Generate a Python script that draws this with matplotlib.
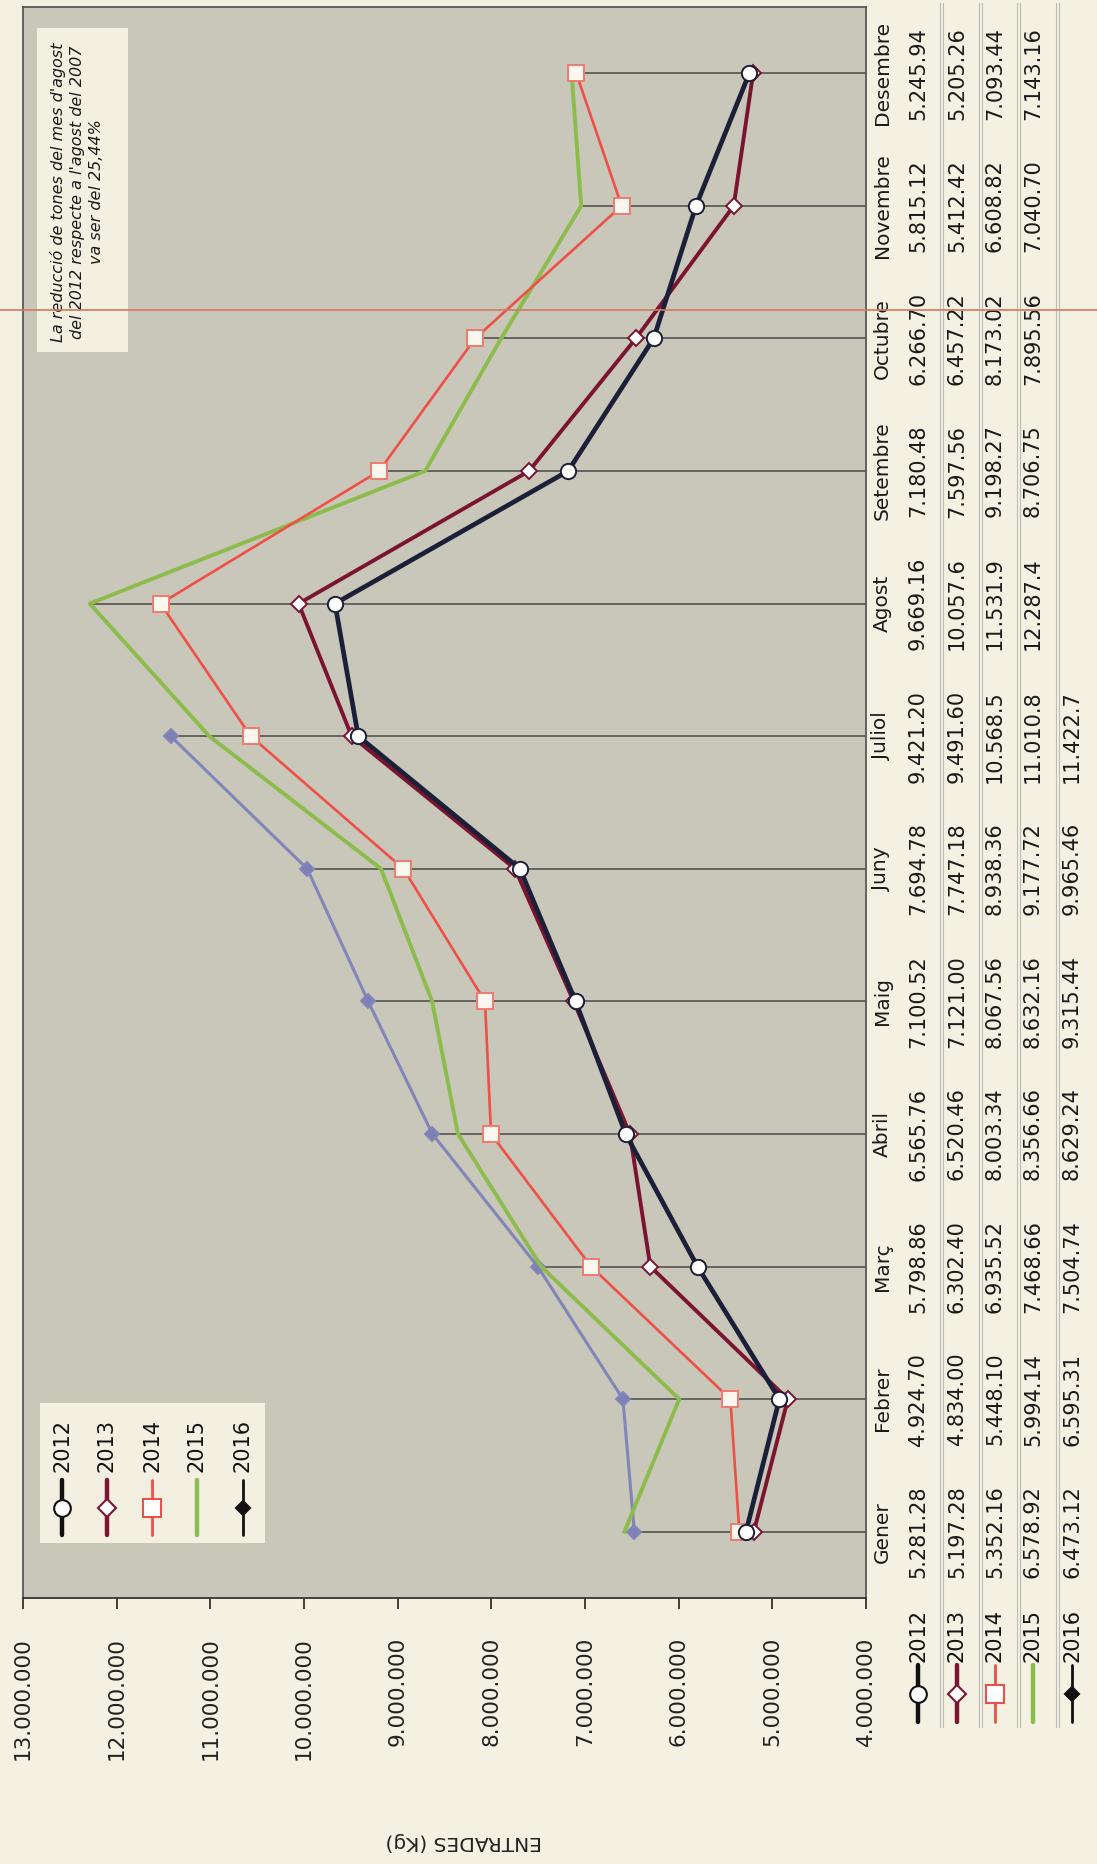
import matplotlib
matplotlib.use("Agg")
import matplotlib.pyplot as plt
from matplotlib.lines import Line2D
from matplotlib.patches import Rectangle
from matplotlib.transforms import blended_transform_factory

# ---------------- data (tones) ----------------
months = ["Gener", "Febrer", "Març", "Abril", "Maig", "Juny", "Juliol",
          "Agost", "Setembre", "Octubre", "Novembre", "Desembre"]
years = ["2012", "2013", "2014", "2015", "2016"]
t2012 = [5281.28, 4924.70, 5798.86, 6565.76, 7100.52, 7694.78, 9421.20,
         9669.16, 7180.48, 6266.70, 5815.12, 5245.94]
t2013 = [5197.28, 4834.00, 6302.40, 6520.46, 7121.00, 7747.18, 9491.60,
         10057.6, 7597.56, 6457.22, 5412.42, 5205.26]
t2014 = [5352.16, 5448.10, 6935.52, 8003.34, 8067.56, 8938.36, 10568.5,
         11531.9, 9198.27, 8173.02, 6608.82, 7093.44]
t2015 = [6578.92, 5994.14, 7468.66, 8356.66, 8632.16, 9177.72, 11010.8,
         12287.4, 8706.75, 7895.56, 7040.70, 7143.16]
t2016 = [6473.12, 6595.31, 7504.74, 8629.24, 9315.44, 9965.46, 11422.7]
series = [t2012, t2013, t2014, t2015, t2016]
value_ticks = [4000000, 5000000, 6000000, 7000000, 8000000,
               9000000, 10000000, 11000000, 12000000, 13000000]
axis_label = "ENTRADES (Kg)"
note = "La reducció de tones del mes d'agost\ndel 2012 respecte a l'agost del 2007\nva ser del 25,44%"

# ---------------- styles ----------------
W, H = 1097, 1864
PAGE = "#f4f1e3"
PLOT = "#c9c7b9"
BOX = "#f3f0e2"
line_col = ["#1b1f38", "#7a1430", "#ee5048", "#8cbc4c", "#8285b8"]
key_col = ["#111111", "#7a1430", "#e8524a", "#8cbc4c", "#111111"]
lws = [3.4, 2.8, 1.9, 2.8, 2.2]
mk = ["o", "D", "s", None, "D"]
mss = [11, 8, 12, 0, 7]
mfc = ["white", "white", "#fbf7ee", "none", "#7d80b4"]
z = [6, 5, 4, 3, 2]

plt.rcParams["font.family"] = ["DejaVu Sans"]

fig = plt.figure(figsize=(W / 100, H / 100), dpi=100, facecolor=PAGE)


def fx(px):
    return px / W


def fy(py):
    return 1 - py / H


ax_l, ax_r, ax_t, ax_b = 23, 866, 7, 1598
ax = fig.add_axes([fx(ax_l), fy(ax_b), fx(ax_r - ax_l), (ax_b - ax_t) / H])
ax.set_facecolor(PLOT)
ax.set_xlim(13e6, 4e6)
ax.set_ylim(-0.5, 11.5)

ypos = list(range(len(months)))

# drop lines from each month's maximum to the axis
for i in ypos:
    vals = [s[i] for s in series if i < len(s)]
    ax.hlines(i, max(vals) * 1000, 4e6, color="#4a4a48", lw=1.1, zorder=1)

for k, s in enumerate(series):
    xs = [v * 1000 for v in s]
    ys = ypos[:len(s)]
    if mk[k]:
        ax.plot(xs, ys, color=line_col[k], lw=lws[k], marker=mk[k], ms=mss[k],
                mfc=mfc[k], mec=line_col[k] if k != 2 else "#f07a70",
                mew=1.4, zorder=z[k])
    else:
        ax.plot(xs, ys, color=line_col[k], lw=lws[k], zorder=z[k])

ax.set_xticks(value_ticks)
ax.set_xticklabels([f"{v:,}".replace(",", ".") for v in value_ticks], rotation=90)
ax.tick_params(axis="x", direction="out", length=8, width=1.2, pad=20,
               labelsize=15.5, colors="#222222")
ax.set_yticks([])
for side, sp in ax.spines.items():
    sp.set_color("#5a5a55")
    sp.set_linewidth(1.3)
ax.spines["bottom"].set_color("#333333")

# axis title (upside down, as in the scanned page)
fig.text(fx(464), fy(1842), axis_label, rotation=180, ha="center", va="center",
         fontsize=14.5, color="#222222")

# ---------------- note box ----------------
fig.add_artist(Rectangle((fx(37), fy(352)), fx(128 - 37), (352 - 28) / H,
                         transform=fig.transFigure, facecolor=BOX, edgecolor="none",
                         zorder=3))
fig.text(fx(77), fy(192), note, rotation=90, ha="center", va="center",
         multialignment="center", fontsize=11.5, style="italic",
         linespacing=1.35, color="#1a1a1a", zorder=4)

# ---------------- legend in plot ----------------
fig.add_artist(Rectangle((fx(40), fy(1543)), fx(265 - 40), (1543 - 1403) / H,
                         transform=fig.transFigure, facecolor=BOX, edgecolor="none",
                         zorder=3))
leg_x = [62, 107, 152, 197, 243]


def key(x, ytop, ybot, k, lw):
    fig.add_artist(Line2D([fx(x), fx(x)], [fy(ytop), fy(ybot)],
                          transform=fig.transFigure, color=key_col[k], lw=lw,
                          solid_capstyle="round", zorder=5))
    if mk[k]:
        fig.add_artist(Line2D([fx(x)], [fy((ytop + ybot) / 2)],
                              transform=fig.transFigure, marker=mk[k],
                              ms=mss[k] + (1 if k < 3 else 0),
                              mfc=("white" if k < 3 else key_col[k]),
                              mec=key_col[k], mew=1.5, color=key_col[k],
                              zorder=6))


for k, yr in enumerate(years):
    key(leg_x[k], 1480, 1535, k, 3.2 if k in (0, 1, 3) else 2.0)
    fig.text(fx(leg_x[k]), fy(1472), yr, rotation=90, ha="center", va="bottom",
             fontsize=15, color="#111111", zorder=6)

# ---------------- data table ----------------
tr = blended_transform_factory(fig.transFigure, ax.transData)
col_hdr = 882
row_x = [918, 957, 995, 1033, 1072]
for i, m in enumerate(months):
    fig.text(fx(col_hdr), i, m, transform=tr, rotation=90, ha="center",
             va="center", fontsize=14.5, color="#1a1a1a")
for k, s in enumerate(series):
    for i, v in enumerate(s):
        txt = f"{v:,.2f}".replace(",", ".")[:8]
        fig.text(fx(row_x[k]), i, txt, transform=tr, rotation=90, ha="center",
                 va="center", fontsize=15, color="#1a1a1a")
    # row label: key + year
    fig.text(fx(row_x[k]), fy(1662), years[k], rotation=90, ha="center",
             va="bottom", fontsize=15, color="#111111")
    key(row_x[k], 1665, 1722, k, 3.2 if k in (0, 1, 3) else 2.0)

for sx in [941, 980, 1018, 1057]:
    for d in (-1.5, 1.5):
        fig.add_artist(Line2D([fx(sx + d), fx(sx + d)], [fy(3), fy(1727)],
                              transform=fig.transFigure, color="#bdbcb4", lw=0.8))

# scanning artefact line across the page
fig.add_artist(Line2D([0, 1], [fy(310), fy(310)], transform=fig.transFigure,
                      color="#cf7a5c", lw=1.2, zorder=8))

fig.savefig("out.png", dpi=100, facecolor=PAGE)
